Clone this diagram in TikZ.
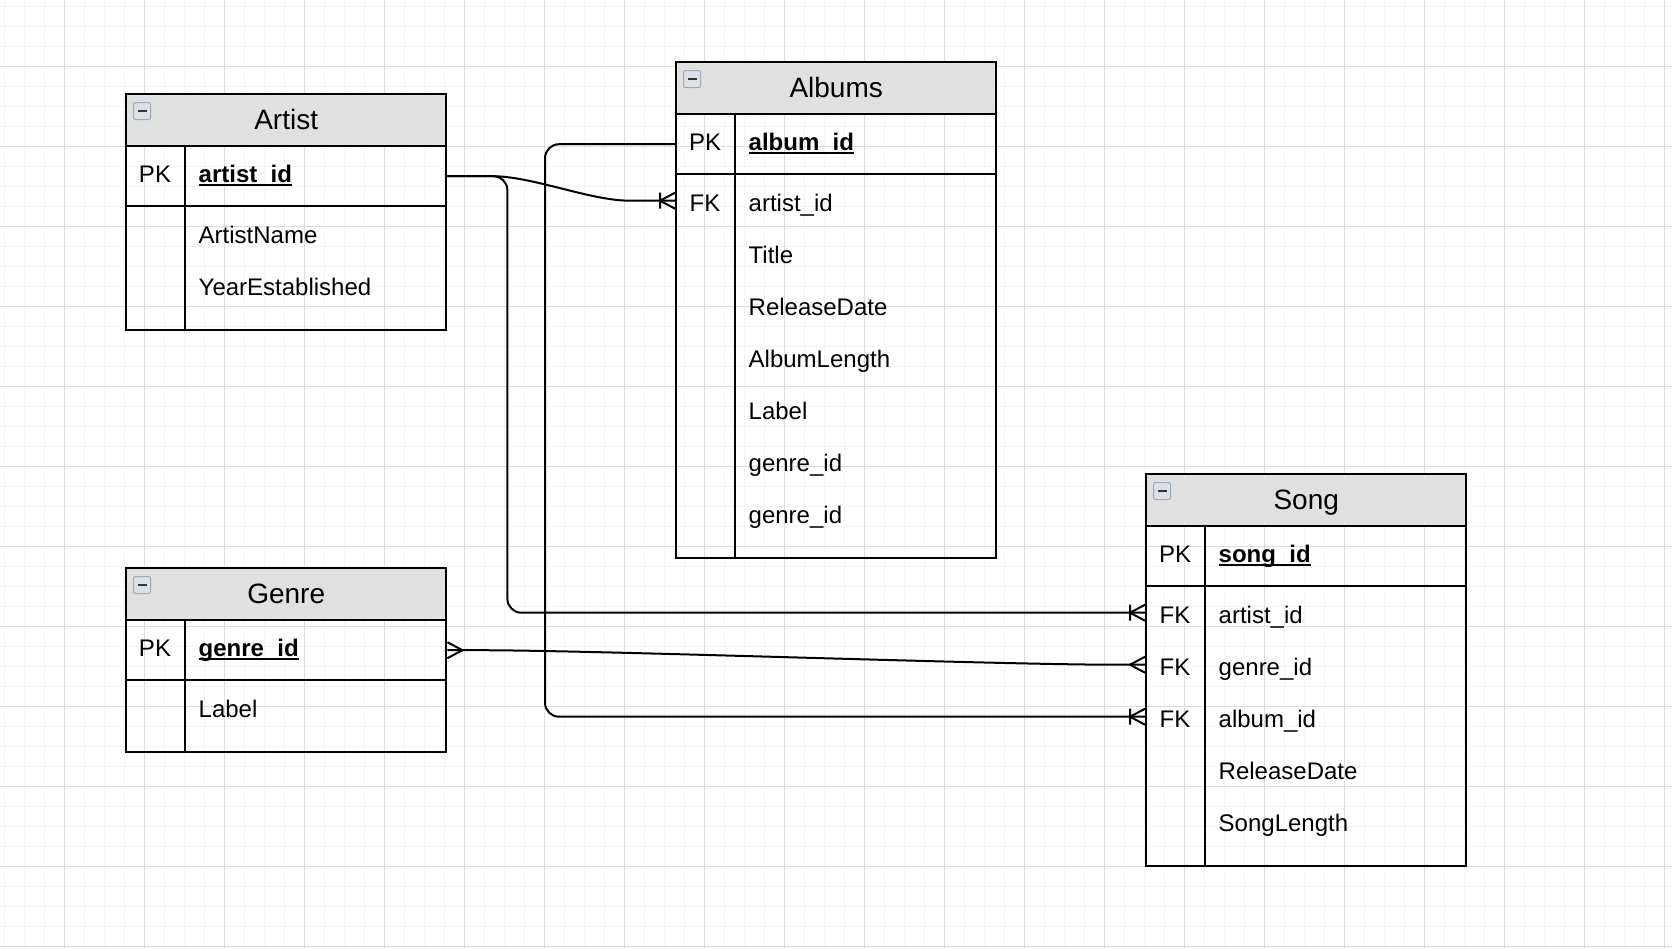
\documentclass[tikz,border=0pt]{standalone}
\usepackage{fontspec}
\setmainfont{Liberation Sans}
\usetikzlibrary{arrows.meta}

\definecolor{headgray}{HTML}{E0E0E0}
\definecolor{gridminor}{HTML}{F4F4F4}
\definecolor{gridmajor}{HTML}{DDDDDD}
\definecolor{iconfill}{HTML}{DCE1E8}
\definecolor{iconedge}{HTML}{A0A9B6}
\definecolor{iconbar}{HTML}{333333}

\newcommand\erbody{\fontsize{24}{28}\selectfont}
\newcommand\erhead{\fontsize{28}{32}\selectfont}
\newcommand\keyname[1]{\setbox0\hbox{\bfseries #1}\rlap{\rule[-3.5pt]{\wd0}{2pt}}\box0}

\pgfdeclarearrow{
  name = Crow,
  defaults = {length = 15pt, width = 16pt},
  setup code = {
    \pgfarrowssettipend{0pt}
    \pgfarrowssetlineend{0pt}
    \pgfarrowssetbackend{-\pgfarrowlength}
    \pgfarrowssavethe\pgfarrowlength
    \pgfarrowssavethe\pgfarrowwidth
  },
  drawing code = {
    \pgfpathmoveto{\pgfqpoint{0pt}{.5\pgfarrowwidth}}
    \pgfpathlineto{\pgfqpoint{-\pgfarrowlength}{0pt}}
    \pgfpathlineto{\pgfqpoint{0pt}{-.5\pgfarrowwidth}}
    \pgfusepathqstroke
  },
  parameters = {\the\pgfarrowlength,\the\pgfarrowwidth},
}

\pgfdeclarearrow{
  name = CrowBar,
  defaults = {length = 15pt, width = 16pt},
  setup code = {
    \pgfarrowssettipend{0pt}
    \pgfarrowssetlineend{0pt}
    \pgfarrowssetbackend{-\pgfarrowlength}
    \pgfarrowssavethe\pgfarrowlength
    \pgfarrowssavethe\pgfarrowwidth
  },
  drawing code = {
    \pgfpathmoveto{\pgfqpoint{0pt}{.5\pgfarrowwidth}}
    \pgfpathlineto{\pgfqpoint{-\pgfarrowlength}{0pt}}
    \pgfpathlineto{\pgfqpoint{0pt}{-.5\pgfarrowwidth}}
    \pgfpathmoveto{\pgfqpoint{-\pgfarrowlength}{.5\pgfarrowwidth}}
    \pgfpathlineto{\pgfqpoint{-\pgfarrowlength}{-.5\pgfarrowwidth}}
    \pgfusepathqstroke
  },
  parameters = {\the\pgfarrowlength,\the\pgfarrowwidth},
}

\tikzset{
  tableline/.style={line width=2.4pt},
  tablehead/.style={draw, tableline, fill=headgray, anchor=north west, inner sep=0pt,
    minimum width=320pt, minimum height=52pt, text height=23pt, text depth=5pt, font=\erhead},
  keyrow/.style={draw, tableline, anchor=north west, inner sep=0pt,
    minimum width=320pt, minimum height=60pt},
  tablebody/.style={keyrow},
  keytext/.style={inner sep=0pt, text height=27pt, text depth=5pt, font=\erbody},
  fieldtext/.style={keytext, anchor=west},
  collapse/.style={draw=iconedge, fill=iconfill, line width=1pt, minimum size=17pt,
    inner sep=0pt, rounded corners=2pt,
    path picture={\draw[line width=2.4pt, iconbar]
      ([xshift=-4.5pt]path picture bounding box.center) --
      ([xshift=4.5pt]path picture bounding box.center);}},
  erline/.style={line width=2pt},
}

\begin{document}
\begin{tikzpicture}[x=1pt,y=-1pt]

      \fill[white] (0,0) rectangle (1672,948);
      \useasboundingbox (0,0) rectangle (1672,948);

      \foreach \x in {4,24,...,1664} \draw[gridminor, line width=1pt] (\x,0) -- (\x,948);
      \foreach \y in {6,26,...,946} \draw[gridminor, line width=1pt] (0,\y) -- (1672,\y);
      \foreach \x in {64,144,...,1664} \draw[gridmajor, line width=1pt] (\x,0) -- (\x,948);
      \foreach \y in {66,146,...,946} \draw[gridmajor, line width=1pt] (0,\y) -- (1672,\y);

      \node[tablehead] (artist) at (125,93) {Artist};
      \node[keyrow] (artist-pk) at (125,145) {};
      \node[tablebody, minimum height=124pt] (artist-body) at (125,205) {};

      \node[tablehead] (albums) at (675,61) {Albums};
      \node[keyrow] (albums-pk) at (675,113) {};
      \node[tablebody, minimum height=384pt] (albums-body) at (675,173) {};

      \node[tablehead] (genre) at (125,567) {Genre};
      \node[keyrow] (genre-pk) at (125,619) {};
      \node[tablebody, minimum height=72pt] (genre-body) at (125,679) {};

      \node[tablehead] (song) at (1145,473) {Song};
      \node[keyrow] (song-pk) at (1145,525) {};
      \node[tablebody, minimum height=280pt] (song-body) at (1145,585) {};

      \draw[tableline] ([xshift=60pt]artist-pk.north west) -- ([xshift=60pt]artist-body.south west);
      \draw[tableline] ([xshift=60pt]albums-pk.north west) -- ([xshift=60pt]albums-body.south west);
      \draw[tableline] ([xshift=60pt]genre-pk.north west) -- ([xshift=60pt]genre-body.south west);
      \draw[tableline] ([xshift=60pt]song-pk.north west) -- ([xshift=60pt]song-body.south west);

      \node[collapse] (artist-icon) at (142,111) {};
      \node[collapse] (albums-icon) at (692,79) {};
      \node[collapse] (genre-icon) at (142,585) {};
      \node[collapse] (song-icon) at (1162,491) {};

      \begin{scope}[every node/.style={keytext}]
        \node (artist-pkkey) at (155,171) {PK};
        \node (albums-pkkey) at (705,139) {PK};
        \node (albums-fkkey) at (705,200.7) {FK};
        \node (genre-pkkey)  at (155,645) {PK};
        \node (song-pkkey)   at (1175,551) {PK};
        \node (song-fkkey1)  at (1175,612.7) {FK};
        \node (song-fkkey2)  at (1175,664.7) {FK};
        \node (song-fkkey3)  at (1175,716.7) {FK};
      \end{scope}

      \begin{scope}[every node/.style={fieldtext}]
        \node (artist-id)   at (198.5,171) {\keyname{artist\_id}};
        \node (artist-name) at (198.5,232.7) {ArtistName};
        \node (artist-year) at (198.5,284.7) {YearEstablished};

        \node (albums-id)     at (748.5,139) {\keyname{album\_id}};
        \node (albums-artist) at (748.5,200.7) {artist\_id};
        \node (albums-title)  at (748.5,252.7) {Title};
        \node (albums-date)   at (748.5,304.7) {ReleaseDate};
        \node (albums-length) at (748.5,356.7) {AlbumLength};
        \node (albums-label)  at (748.5,408.7) {Label};
        \node (albums-genre1) at (748.5,460.7) {genre\_id};
        \node (albums-genre2) at (748.5,512.7) {genre\_id};

        \node (genre-id)    at (198.5,645) {\keyname{genre\_id}};
        \node (genre-label) at (198.5,706.7) {Label};

        \node (song-id)     at (1218.5,551) {\keyname{song\_id}};
        \node (song-artist) at (1218.5,612.7) {artist\_id};
        \node (song-genre)  at (1218.5,664.7) {genre\_id};
        \node (song-album)  at (1218.5,716.7) {album\_id};
        \node (song-date)   at (1218.5,768.7) {ReleaseDate};
        \node (song-length) at (1218.5,820.7) {SongLength};
      \end{scope}

      \coordinate (albums-fk) at (albums-body.west |- albums-artist);
      \coordinate (song-fk1) at (song-body.west |- song-artist);
      \coordinate (song-fk2) at (song-body.west |- song-genre);
      \coordinate (song-fk3) at (song-body.west |- song-album);

      \begin{scope}[every path/.style={erline}]
        \draw[-{CrowBar}] (artist-pk.east) -- ++(45,0)
          .. controls +(40,0) and +(-40,0) .. ([xshift=-45pt]albums-fk) -- (albums-fk);
        \draw[rounded corners=14pt, -{CrowBar}] (artist-pk.east)
          -- ([xshift=60pt]artist-pk.east) |- (song-fk1);
        \draw[rounded corners=14pt, -{CrowBar}] (albums-pk.west)
          -- ([xshift=-130pt]albums-pk.west) |- (song-fk3);
        \draw[{Crow}-{Crow}] (genre-pk.east) -- ++(30,0)
          .. controls +(120,0) and +(-120,0) .. ([xshift=-30pt]song-fk2) -- (song-fk2);
      \end{scope}

    \end{tikzpicture}
\end{document}
